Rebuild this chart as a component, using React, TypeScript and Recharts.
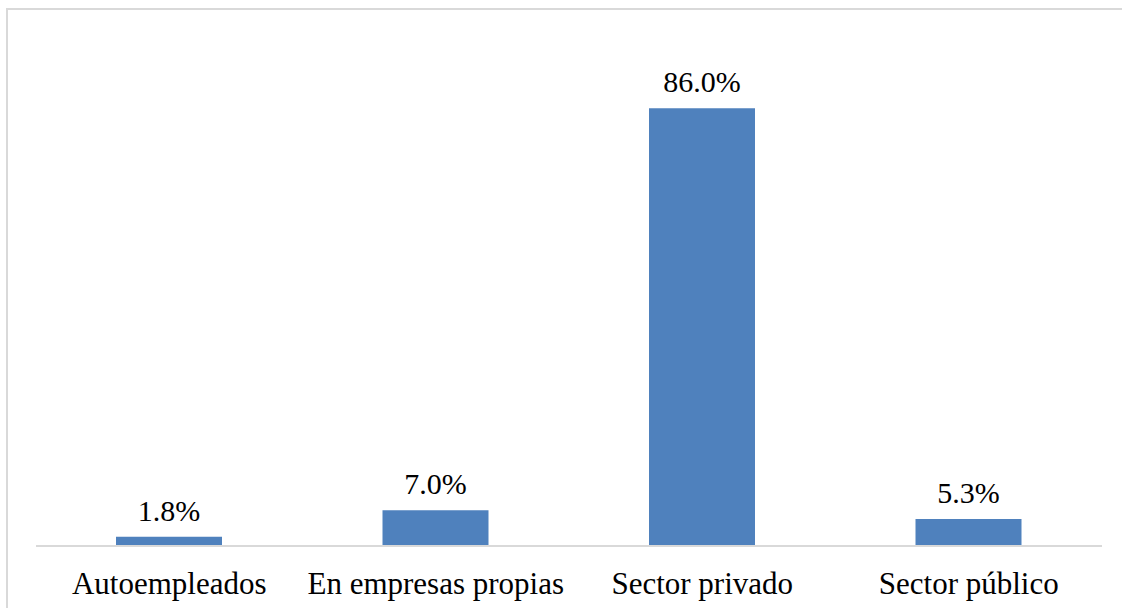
import React from 'react';
import { BarChart, Bar, XAxis, YAxis, LabelList } from 'recharts';

const categories = ['Autoempleados', 'En empresas propias', 'Sector privado', 'Sector público'];
const shares = [1.8, 7.0, 86.0, 5.3];

const data = categories.map((name, i) => ({ name, value: shares[i] }));

const FONT = '"Liberation Serif", "DejaVu Serif", serif';

const App: React.FC = () => {
    return (
        <div style={{ position: 'absolute', left: 0, top: 0, width: 1122, height: 608, overflow: 'hidden', background: '#fff' }}>
            <div
                style={{
                    position: 'absolute',
                    left: 6,
                    top: 8,
                    width: 1130,
                    height: 620,
                    borderTop: '2px solid #d9d9d9',
                    borderLeft: '2px solid #d9d9d9',
                }}
            />
            <div style={{ position: 'absolute', left: 0, top: 0 }}>
                <BarChart
                    width={1122}
                    height={608}
                    data={data}
                    margin={{ top: 37, right: 20, left: 36, bottom: 12 }}
                >
                    <YAxis hide domain={[0, 100]} />
                    <XAxis
                        dataKey="name"
                        height={50}
                        axisLine={{ stroke: '#d9d9d9', strokeWidth: 2 }}
                        tickLine={false}
                        tickMargin={20}
                        tick={{ fill: '#000', fontSize: 31, fontFamily: FONT }}
                        interval={0}
                    />
                    <Bar dataKey="value" fill="#4f81bd" barSize={106} isAnimationActive={false}>
                        <LabelList
                            dataKey="value"
                            position="top"
                            offset={16}
                            formatter={(v: any) => `${Number(v).toFixed(1)}%`}
                            style={{ fill: '#000', fontSize: 30, fontFamily: FONT }}
                        />
                    </Bar>
                </BarChart>
            </div>
        </div>
    );
};

export default App;
